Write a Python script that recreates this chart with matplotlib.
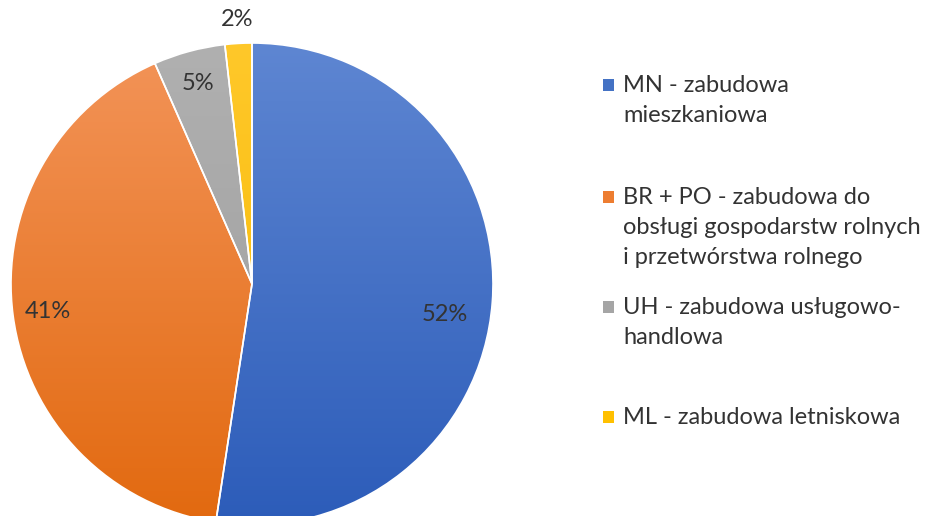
import numpy as np
import matplotlib
matplotlib.use("Agg")
import matplotlib.pyplot as plt
from matplotlib.colors import LinearSegmentedColormap

# data
categories = [["MN - zabudowa", "mieszkaniowa"],
              ["BR + PO - zabudowa do", "obsługi gospodarstw rolnych", "i przetwórstwa rolnego"],
              ["UH - zabudowa usługowo-", "handlowa"],
              ["ML - zabudowa letniskowa"]]
values = [52.4, 41.0, 4.8, 1.8]
labels = ["52%", "41%", "5%", "2%"]

top_colors = ["#5E86D2", "#F39459", "#B0B0B0", "#FFC82A"]
bot_colors = ["#2C5CB9", "#E2690F", "#9C9C9C", "#F5B800"]
legend_colors = ["#4472C4", "#ED7D31", "#A5A5A5", "#FFC000"]

W, H = 930, 516
fig = plt.figure(figsize=(W / 100, H / 100), dpi=100)
ax = fig.add_axes([0, 0, 1, 1])
cx, cy, R = 252, H - 284, 241

wedges, _ = ax.pie(values, center=(cx, cy), radius=R, startangle=90,
                   counterclock=False, frame=True,
                   wedgeprops=dict(facecolor="none", edgecolor="white", linewidth=1.2))
grad = np.linspace(0, 1, 256).reshape(-1, 1)
for w, tc, bc in zip(wedges, top_colors, bot_colors):
    cmap = LinearSegmentedColormap.from_list("g", [bc, tc])
    im = ax.imshow(grad, cmap=cmap, origin="lower", aspect="auto",
                   extent=[cx - R, cx + R, cy - R, cy + R], zorder=1)
    im.set_clip_path(w)
    w.set_zorder(2)

font = "Lato"
tcol = "#333333"
fs = 17
# percentage labels
theta = np.cumsum([0] + values)
label_r = [0.81, 0.855, 0.86, 1.10]
label_da = [-4.8, 0, 0, 0]
for i, (lab, r, da) in enumerate(zip(labels, label_r, label_da)):
    mid = 90 - 360 * (theta[i] + theta[i + 1]) / 2 / 100 + da
    x = cx + r * R * np.cos(np.radians(mid))
    y = cy + r * R * np.sin(np.radians(mid))
    ax.text(x, y, lab, ha="center", va="center", fontsize=fs,
            family=font, color=tcol, zorder=3)

# legend
leg_y = [85, 197, 307, 417]
line_h = 30
for lines, col, y in zip(categories, legend_colors, leg_y):
    ax.add_patch(plt.Rectangle((603, H - y - 6), 11, 12, facecolor=col,
                               edgecolor="none", zorder=3))
    for k, line in enumerate(lines):
        ax.text(623, H - y - k * line_h, line, ha="left", va="center",
                fontsize=fs, family=font, color=tcol, zorder=3)

ax.set_xlim(0, W)
ax.set_ylim(0, H)
ax.set_aspect("auto")
ax.axis("off")
fig.savefig("out.png", dpi=100)
